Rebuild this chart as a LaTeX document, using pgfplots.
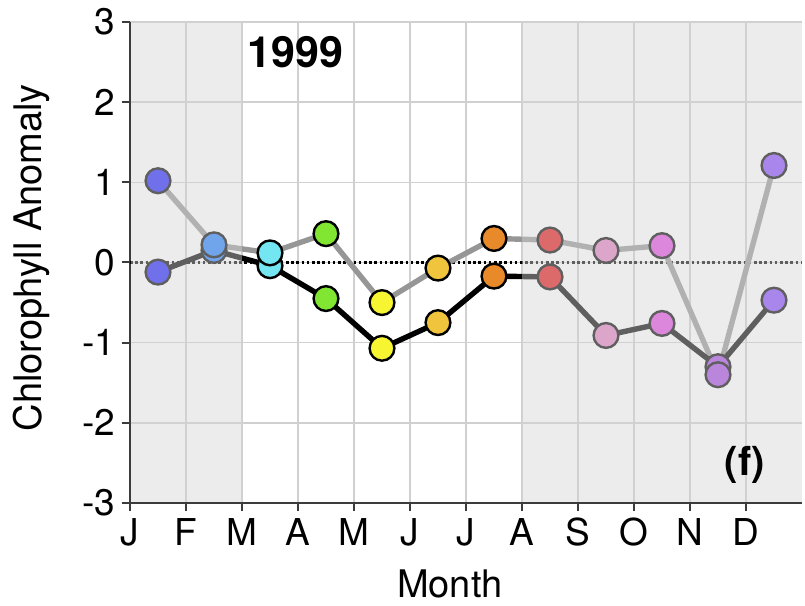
\documentclass[border=0pt]{standalone}
\usepackage{fontspec}
\setmainfont{TeX Gyre Heros}
\usepackage{pgfplots}
\usepackage{pgfplotstable}
\pgfplotsset{compat=1.18}

\definecolor{shade}{RGB}{212,212,212}
\definecolor{lightline}{RGB}{150,150,150}
\definecolor{gridc}{RGB}{208,208,208}
\definecolor{axisc}{RGB}{60,60,60}
% marker colours by month (the grey overlay fades the shaded months)
\definecolor{c1}{RGB}{30,30,255}
\definecolor{c2}{RGB}{30,125,255}
\definecolor{c3}{RGB}{115,230,242}
\definecolor{c4}{RGB}{128,230,50}
\definecolor{c5}{RGB}{247,245,49}
\definecolor{c6}{RGB}{240,196,60}
\definecolor{c7}{RGB}{232,137,42}
\definecolor{c8}{RGB}{228,20,20}
\definecolor{c9}{RGB}{228,130,195}
\definecolor{c10}{RGB}{228,70,228}
\definecolor{c11}{RGB}{165,70,228}
\definecolor{c12}{RGB}{135,70,255}

\tikzset{mk/.style={mark=*,draw=black,line width=1.2pt}}

% upper (light) series
\pgfplotstableread{
x y c
0.5 1.02 m1
1.5 0.22 m2
2.5 0.12 m3
3.5 0.36 m4
4.5 -0.50 m5
5.5 -0.07 m6
6.5 0.30 m7
7.5 0.28 m8
8.5 0.15 m9
9.5 0.21 m10
10.5 -1.40 m11
11.5 1.21 m12
}\lightdata

% lower (dark) series
\pgfplotstableread{
x y c
0.5 -0.12 m1
1.5 0.15 m2
2.5 -0.04 m3
3.5 -0.45 m4
4.5 -1.07 m5
5.5 -0.75 m6
6.5 -0.17 m7
7.5 -0.18 m8
8.5 -0.91 m9
9.5 -0.76 m10
10.5 -1.30 m11
11.5 -0.47 m12
}\darkdata

\begin{document}
\begin{tikzpicture}
\pgfplotsset{
  classes/.style={
    scatter, only marks, mark size=6.2pt,
    scatter src=explicit symbolic,
    scatter/classes={
      m1={mk,fill=c1}, m2={mk,fill=c2}, m3={mk,fill=c3}, m4={mk,fill=c4},
      m5={mk,fill=c5}, m6={mk,fill=c6}, m7={mk,fill=c7}, m8={mk,fill=c8},
      m9={mk,fill=c9}, m10={mk,fill=c10}, m11={mk,fill=c11}, m12={mk,fill=c12}},
  },
}
\begin{axis}[
  set layers,
  width=336pt, height=240.5pt, scale only axis,
  xmin=0, xmax=12, ymin=-3, ymax=3,
  axis x line*=bottom, axis y line*=left,
  axis line style={-, line width=1pt, axisc},
  xtick={0,...,11}, xticklabels={J,F,M,A,M,J,J,A,S,O,N,D},
  ytick={-3,...,3}, yticklabels={-3,-2,-1,0,1,2,3},
  grid=major, grid style={gridc, line width=0.7pt},
  tick align=outside, major tick length=4pt,
  tick style={axisc, line width=1pt},
  ticklabel style={font=\fontsize{18.5}{22}\selectfont},
  xlabel=Month, ylabel=Chlorophyll Anomaly,
  label style={font=\fontsize{19}{23}\selectfont},
  xlabel style={at={(axis description cs:0.476,-0.168)}, anchor=center},
  ylabel style={at={(axis description cs:-0.146,0.51)}, anchor=center},
]
% zero line
\addplot[black, line width=1.2pt, dash pattern=on 1.3pt off 1.3pt, forget plot]
  coordinates {(0,0) (12,0)};
% lines
\addplot[lightline, line width=2.7pt, line join=round] table[x=x,y=y] {\lightdata};
\addplot[black, line width=2.7pt, line join=round] table[x=x,y=y] {\darkdata};
% markers
\addplot[classes] table[x=x,y=y,meta=c] {\darkdata};
\addplot[classes] table[x=x,y=y,meta=c] {\lightdata};
% grey shading of the winter months, laid over the data
\addplot[on layer=axis foreground, draw=none, fill=shade, fill opacity=0.45, forget plot]
  coordinates {(0.018,-2.988) (2,-2.988) (2,3) (0.018,3)} -- cycle;
\addplot[on layer=axis foreground, draw=none, fill=shade, fill opacity=0.45, forget plot]
  coordinates {(7,-2.988) (12,-2.988) (12,3) (7,3)} -- cycle;
\begin{pgfonlayer}{axis foreground}
\node[font=\fontsize{21.5}{25}\selectfont\bfseries] at (axis cs:2.95,2.63) {1999};
\node[font=\fontsize{20}{24}\selectfont\bfseries] at (axis cs:10.98,-2.52) {(f)};
\end{pgfonlayer}
\end{axis}
\pgfresetboundingbox
\path[use as bounding box] (-65pt,-51.5pt) rectangle (337.5pt,251.5pt);
\end{tikzpicture}
\end{document}
